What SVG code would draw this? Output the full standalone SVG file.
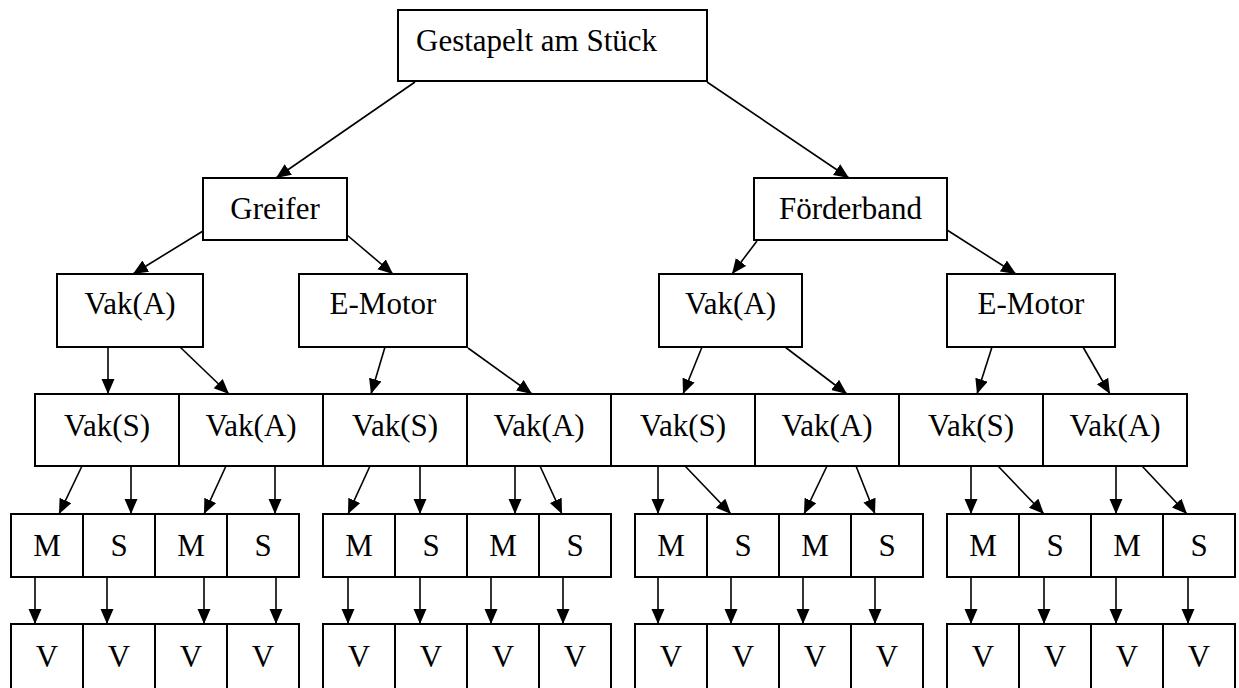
<svg xmlns="http://www.w3.org/2000/svg" width="1239" height="688" viewBox="0 0 1239 688">
  <style>
    .box { fill: #ffffff; stroke: #000000; stroke-width: 2; }
    .lbl { font-family: "Liberation Serif", "Times New Roman", serif; font-size: 31px; fill: #000000; text-anchor: middle; }
    .edge { stroke: #000000; stroke-width: 1.6; fill: none; marker-end: url(#arrow); }
  </style>
  <defs>
    <marker id="arrow" markerUnits="userSpaceOnUse" markerWidth="16" markerHeight="14" refX="15" refY="6.5" orient="auto">
      <path d="M0,0 L15,6.5 L0,13 Z" fill="#000000"/>
    </marker>
  </defs>
  <rect x="0" y="0" width="1239" height="688" fill="#ffffff"/>

  <!-- connectors -->
  <g id="connectors">
    <!-- root to level 1 -->
    <line class="edge" x1="415" y1="82" x2="276" y2="178"/>
    <line class="edge" x1="707" y1="82" x2="849" y2="178"/>
    <!-- level 1 to level 2 -->
    <line class="edge" x1="203" y1="231" x2="133" y2="274"/>
    <line class="edge" x1="347" y1="235" x2="393" y2="274"/>
    <line class="edge" x1="757" y1="241" x2="732" y2="274"/>
    <line class="edge" x1="947" y1="230" x2="1016" y2="274"/>
    <!-- level 2 to level 3 -->
    <line class="edge" x1="108" y1="347" x2="108" y2="394"/>
    <line class="edge" x1="180" y1="347" x2="229" y2="394"/>
    <line class="edge" x1="385" y1="347" x2="371" y2="394"/>
    <line class="edge" x1="468" y1="348" x2="532" y2="394"/>
    <line class="edge" x1="702" y1="347" x2="683" y2="394"/>
    <line class="edge" x1="785" y1="347" x2="847" y2="394"/>
    <line class="edge" x1="992" y1="347" x2="977" y2="394"/>
    <line class="edge" x1="1083" y1="347" x2="1110" y2="394"/>
    <!-- level 3 to level 4 -->
    <line class="edge" x1="82" y1="466" x2="59" y2="514"/>
    <line class="edge" x1="131" y1="466" x2="131" y2="514"/>
    <line class="edge" x1="226" y1="466" x2="204" y2="514"/>
    <line class="edge" x1="275" y1="466" x2="275" y2="514"/>
    <line class="edge" x1="370" y1="466" x2="348" y2="514"/>
    <line class="edge" x1="420" y1="466" x2="420" y2="514"/>
    <line class="edge" x1="515" y1="466" x2="515" y2="514"/>
    <line class="edge" x1="540" y1="466" x2="562" y2="514"/>
    <line class="edge" x1="658" y1="466" x2="658" y2="514"/>
    <line class="edge" x1="685" y1="466" x2="731" y2="514"/>
    <line class="edge" x1="827" y1="466" x2="804" y2="514"/>
    <line class="edge" x1="856" y1="466" x2="875" y2="514"/>
    <line class="edge" x1="971" y1="466" x2="971" y2="514"/>
    <line class="edge" x1="998" y1="466" x2="1044" y2="514"/>
    <line class="edge" x1="1116" y1="466" x2="1116" y2="514"/>
    <line class="edge" x1="1142" y1="466" x2="1187" y2="514"/>
    <!-- level 4 to level 5 -->
    <line class="edge" x1="35" y1="577" x2="35" y2="624"/>
    <line class="edge" x1="107" y1="577" x2="107" y2="624"/>
    <line class="edge" x1="204" y1="577" x2="204" y2="624"/>
    <line class="edge" x1="276" y1="577" x2="276" y2="624"/>
    <line class="edge" x1="348" y1="577" x2="348" y2="624"/>
    <line class="edge" x1="420" y1="577" x2="420" y2="624"/>
    <line class="edge" x1="491" y1="577" x2="491" y2="624"/>
    <line class="edge" x1="563" y1="577" x2="563" y2="624"/>
    <line class="edge" x1="658" y1="577" x2="658" y2="624"/>
    <line class="edge" x1="731" y1="577" x2="731" y2="624"/>
    <line class="edge" x1="803" y1="577" x2="803" y2="624"/>
    <line class="edge" x1="875" y1="577" x2="875" y2="624"/>
    <line class="edge" x1="971" y1="577" x2="971" y2="624"/>
    <line class="edge" x1="1044" y1="577" x2="1044" y2="624"/>
    <line class="edge" x1="1116" y1="577" x2="1116" y2="624"/>
    <line class="edge" x1="1188" y1="577" x2="1188" y2="624"/>
  </g>

  <!-- root -->
  <g id="root">
    <rect class="box" x="398" y="10" width="309" height="71"/>
    <text class="lbl" x="416" y="51" style="text-anchor:start">Gestapelt am Stück</text>
  </g>

  <!-- level 1 -->
  <g id="greifer">
    <rect class="box" x="203" y="178" width="144" height="62"/>
    <text class="lbl" x="275" y="219">Greifer</text>
  </g>
  <g id="foerderband">
    <rect class="box" x="754" y="178" width="193" height="62"/>
    <text class="lbl" x="850.5" y="219">Förderband</text>
  </g>

  <!-- level 2 -->
  <g id="g-vakA">
    <rect class="box" x="57" y="274" width="146" height="73"/>
    <text class="lbl" x="130" y="314">Vak(A)</text>
  </g>
  <g id="g-emotor">
    <rect class="box" x="299" y="274" width="168" height="73"/>
    <text class="lbl" x="383" y="314">E-Motor</text>
  </g>
  <g id="f-vakA">
    <rect class="box" x="659" y="274" width="143" height="73"/>
    <text class="lbl" x="730.5" y="314">Vak(A)</text>
  </g>
  <g id="f-emotor">
    <rect class="box" x="947" y="274" width="168" height="73"/>
    <text class="lbl" x="1031" y="314">E-Motor</text>
  </g>

  <!-- level 3 -->
  <g id="l3-1"><rect class="box" x="35" y="394" width="144" height="72"/><text class="lbl" x="107" y="436">Vak(S)</text></g>
  <g id="l3-2"><rect class="box" x="179" y="394" width="144" height="72"/><text class="lbl" x="251" y="436">Vak(A)</text></g>
  <g id="l3-3"><rect class="box" x="323" y="394" width="144" height="72"/><text class="lbl" x="395" y="436">Vak(S)</text></g>
  <g id="l3-4"><rect class="box" x="467" y="394" width="144" height="72"/><text class="lbl" x="539" y="436">Vak(A)</text></g>
  <g id="l3-5"><rect class="box" x="611" y="394" width="144" height="72"/><text class="lbl" x="683" y="436">Vak(S)</text></g>
  <g id="l3-6"><rect class="box" x="755" y="394" width="144" height="72"/><text class="lbl" x="827" y="436">Vak(A)</text></g>
  <g id="l3-7"><rect class="box" x="899" y="394" width="144" height="72"/><text class="lbl" x="971" y="436">Vak(S)</text></g>
  <g id="l3-8"><rect class="box" x="1043" y="394" width="144" height="72"/><text class="lbl" x="1115" y="436">Vak(A)</text></g>

  <!-- level 4 -->
  <g id="l4-1"><rect class="box" x="11" y="514" width="72" height="63"/><text class="lbl" x="47" y="556">M</text></g>
  <g id="l4-2"><rect class="box" x="83" y="514" width="72" height="63"/><text class="lbl" x="119" y="556">S</text></g>
  <g id="l4-3"><rect class="box" x="155" y="514" width="72" height="63"/><text class="lbl" x="191" y="556">M</text></g>
  <g id="l4-4"><rect class="box" x="227" y="514" width="72" height="63"/><text class="lbl" x="263" y="556">S</text></g>
  <g id="l4-5"><rect class="box" x="323" y="514" width="72" height="63"/><text class="lbl" x="359" y="556">M</text></g>
  <g id="l4-6"><rect class="box" x="395" y="514" width="72" height="63"/><text class="lbl" x="431" y="556">S</text></g>
  <g id="l4-7"><rect class="box" x="467" y="514" width="72" height="63"/><text class="lbl" x="503" y="556">M</text></g>
  <g id="l4-8"><rect class="box" x="539" y="514" width="72" height="63"/><text class="lbl" x="575" y="556">S</text></g>
  <g id="l4-9"><rect class="box" x="635" y="514" width="72" height="63"/><text class="lbl" x="671" y="556">M</text></g>
  <g id="l4-10"><rect class="box" x="707" y="514" width="72" height="63"/><text class="lbl" x="743" y="556">S</text></g>
  <g id="l4-11"><rect class="box" x="779" y="514" width="72" height="63"/><text class="lbl" x="815" y="556">M</text></g>
  <g id="l4-12"><rect class="box" x="851" y="514" width="72" height="63"/><text class="lbl" x="887" y="556">S</text></g>
  <g id="l4-13"><rect class="box" x="947" y="514" width="72" height="63"/><text class="lbl" x="983" y="556">M</text></g>
  <g id="l4-14"><rect class="box" x="1019" y="514" width="72" height="63"/><text class="lbl" x="1055" y="556">S</text></g>
  <g id="l4-15"><rect class="box" x="1091" y="514" width="72" height="63"/><text class="lbl" x="1127" y="556">M</text></g>
  <g id="l4-16"><rect class="box" x="1163" y="514" width="72" height="63"/><text class="lbl" x="1199" y="556">S</text></g>

  <!-- level 5 -->
  <g id="l5-1"><rect class="box" x="11" y="624" width="72" height="80"/><text class="lbl" x="47" y="667">V</text></g>
  <g id="l5-2"><rect class="box" x="83" y="624" width="72" height="80"/><text class="lbl" x="119" y="667">V</text></g>
  <g id="l5-3"><rect class="box" x="155" y="624" width="72" height="80"/><text class="lbl" x="191" y="667">V</text></g>
  <g id="l5-4"><rect class="box" x="227" y="624" width="72" height="80"/><text class="lbl" x="263" y="667">V</text></g>
  <g id="l5-5"><rect class="box" x="323" y="624" width="72" height="80"/><text class="lbl" x="359" y="667">V</text></g>
  <g id="l5-6"><rect class="box" x="395" y="624" width="72" height="80"/><text class="lbl" x="431" y="667">V</text></g>
  <g id="l5-7"><rect class="box" x="467" y="624" width="72" height="80"/><text class="lbl" x="503" y="667">V</text></g>
  <g id="l5-8"><rect class="box" x="539" y="624" width="72" height="80"/><text class="lbl" x="575" y="667">V</text></g>
  <g id="l5-9"><rect class="box" x="635" y="624" width="72" height="80"/><text class="lbl" x="671" y="667">V</text></g>
  <g id="l5-10"><rect class="box" x="707" y="624" width="72" height="80"/><text class="lbl" x="743" y="667">V</text></g>
  <g id="l5-11"><rect class="box" x="779" y="624" width="72" height="80"/><text class="lbl" x="815" y="667">V</text></g>
  <g id="l5-12"><rect class="box" x="851" y="624" width="72" height="80"/><text class="lbl" x="887" y="667">V</text></g>
  <g id="l5-13"><rect class="box" x="947" y="624" width="72" height="80"/><text class="lbl" x="983" y="667">V</text></g>
  <g id="l5-14"><rect class="box" x="1019" y="624" width="72" height="80"/><text class="lbl" x="1055" y="667">V</text></g>
  <g id="l5-15"><rect class="box" x="1091" y="624" width="72" height="80"/><text class="lbl" x="1127" y="667">V</text></g>
  <g id="l5-16"><rect class="box" x="1163" y="624" width="72" height="80"/><text class="lbl" x="1199" y="667">V</text></g>
</svg>
